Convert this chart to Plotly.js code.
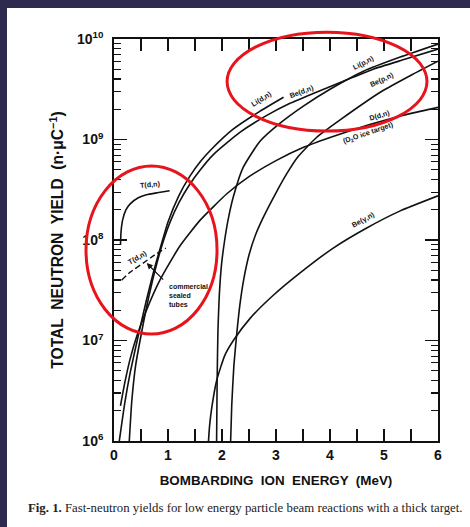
<!DOCTYPE html>
<html>
<head>
<meta charset="utf-8">
<script src="https://cdn.plot.ly/plotly-3.0.1.min.js"></script>
<style>
  html, body { margin:0; padding:0; width:470px; height:527px; overflow:hidden; background:#2e2a4e; }
  #panel { position:absolute; left:7px; top:8px; width:463px; height:519px; background:#ffffff; }
  #chart { position:absolute; left:0; top:0; width:470px; height:527px; }
</style>
</head>
<body>
<div id="panel"></div>
<div id="chart"></div>
<script>
// ---- Data (energy in MeV, log10 of yield in n/uC) ----
const E_LiDn    = [0.098, 0.2, 0.3, 0.45, 0.6, 0.75, 0.9, 1.0, 1.2, 1.4, 1.6, 1.8, 2.2, 2.7, 3.14];
const logY_LiDn = [6.0, 6.38, 6.68, 7.05, 7.4, 7.72, 8.0, 8.18, 8.44, 8.63, 8.78, 8.9, 9.1, 9.28, 9.42];

const E_BeDn    = [0.283, 0.33, 0.4, 0.5, 0.65, 0.8, 0.92, 1.04, 1.2, 1.41, 1.6, 1.84, 2.33, 2.83, 3.26, 3.7, 4.2, 4.8, 5.4, 6.0];
const logY_BeDn = [6.0, 6.4, 6.75, 7.05, 7.45, 7.78, 8.0, 8.18, 8.37, 8.56, 8.7, 8.85, 9.07, 9.24, 9.36, 9.46, 9.57, 9.7, 9.8, 9.9];

const E_LiPn    = [1.90, 1.91, 1.925, 1.95, 1.99, 2.05, 2.12, 2.21, 2.39, 2.7, 3.07, 3.5, 4.0, 4.62, 5.3, 6.0];
const logY_LiPn = [6.0, 6.6, 7.1, 7.45, 7.75, 8.0, 8.22, 8.43, 8.72, 8.98, 9.16, 9.33, 9.5, 9.68, 9.82, 9.95];

const E_BePn    = [2.16, 2.18, 2.22, 2.27, 2.33, 2.4, 2.5, 2.62, 2.76, 3.0, 3.2, 3.41, 3.75, 4.2, 4.96, 5.5, 6.0];
const logY_BePn = [6.0, 6.35, 6.75, 7.05, 7.35, 7.6, 7.85, 8.05, 8.22, 8.47, 8.66, 8.83, 9.02, 9.2, 9.48, 9.64, 9.78];

const E_DDn     = [0.12, 0.2, 0.3, 0.42, 0.6, 0.85, 1.22, 1.6, 2.09, 2.5, 3.0, 3.5, 4.0, 4.5, 5.0, 5.5, 6.0];
const logY_DDn  = [6.35, 6.58, 6.82, 7.04, 7.3, 7.6, 7.94, 8.2, 8.46, 8.63, 8.79, 8.92, 9.02, 9.11, 9.19, 9.26, 9.32];

const E_BeGn    = [1.75, 1.77, 1.81, 1.9, 2.05, 2.21, 2.52, 2.95, 3.44, 4.06, 4.68, 5.3, 6.0];
const logY_BeGn = [6.0, 6.15, 6.33, 6.6, 6.85, 7.0, 7.22, 7.45, 7.67, 7.92, 8.12, 8.29, 8.44];

const E_TDn     = [0.12, 0.13, 0.16, 0.22, 0.3, 0.45, 0.6, 0.8, 1.03];
const logY_TDn  = [7.95, 8.08, 8.2, 8.3, 8.36, 8.42, 8.45, 8.47, 8.49];

const E_TDnTube    = [0.14, 0.3, 0.54, 0.75, 0.96];
const logY_TDnTube = [7.6, 7.68, 7.77, 7.85, 7.92];

// axis tick labels
const xTickVals = [0, 1, 2, 3, 4, 5, 6];
const xTickText = ['0', '1', '2', '3', '4', '5', '6'];
const yTickVals = [1e6, 1e7, 1e8, 1e9, 1e10];
const yTickText = ['10<sup>6</sup>', '10<sup>7</sup>', '10<sup>8</sup>', '10<sup>9</sup>', '10<sup>10</sup>'];
const yMinorMantissas = [2, 3, 4, 5, 6, 7, 8, 9];
const yMinorTickVals = [1e6, 1e7, 1e8, 1e9].flatMap(d => yMinorMantissas.map(m => m * d));

const toYield = arr => arr.map(v => Math.pow(10, v));

function curve(x, ly, extra) {
  return Object.assign({
    x: x, y: toYield(ly), type:'scatter', mode:'lines',
    line: {color:'#111', width:1.6, shape:'spline', smoothing:0.5}, hoverinfo:'skip', showlegend:false
  }, extra || {});
}

const traces = [
  curve(E_LiDn, logY_LiDn),
  curve(E_BeDn, logY_BeDn),
  curve(E_LiPn, logY_LiPn),
  curve(E_BePn, logY_BePn),
  curve(E_DDn, logY_DDn, {yaxis:'y2'}),
  curve(E_BeGn, logY_BeGn),
  curve(E_TDn, logY_TDn),
  curve(E_TDnTube, logY_TDnTube, {line:{color:'#111', width:1.4, dash:'6px,3px', shape:'spline', smoothing:0.5}})
];

const lblFont = {family:'Liberation Sans, Arial, sans-serif', size:7.2, color:'#111', weight:'bold'};
function lbl(text, x, ly, ang) {
  return {text:text, x:x, y:ly, xref:'x', yref:'y', showarrow:false, textangle:ang, font:lblFont};
}

const annotations = [
  lbl('Li(d,n)', 2.74, 9.41, -32),
  lbl('Be(d,n)', 3.48, 9.48, -20),
  lbl('Li(p,n)', 4.62, 9.77, -27),
  lbl('Be(p,n)', 4.96, 9.6, -25),
  lbl('D(d,n)', 4.91, 9.24, -17),
  lbl('(D<sub>2</sub>O ice target)', 4.71, 9.06, -19),
  lbl('Be(γ,n)', 4.62, 8.2, -29),
  lbl('T(d,n)', 0.67, 8.55, -5),
  lbl('T(d,n)', 0.43, 7.83, -30),
  {text:'commercial<br>sealed<br>tubes', x:0.98, y:7.45, xref:'x', yref:'y', showarrow:false,
   xanchor:'left', align:'left', font:{family:'Liberation Sans, Arial, sans-serif', size:7, color:'#111', weight:'bold'}},
  {text:'', x:0.606, y:7.77, xref:'x', yref:'y', showarrow:true, arrowhead:2, arrowsize:1, arrowwidth:1.2,
   arrowcolor:'#111', ax:18, ay:18},
  {text:'<b>Fig. 1.</b> Fast-neutron yields for low energy particle beam reactions with a thick target.',
   xref:'paper', yref:'paper', x:-0.272, y:-0.166, xanchor:'left', yanchor:'middle', showarrow:false,
   font:{family:'Liberation Serif, Times New Roman, serif', size:12.8, color:'#222'}}
];

const shapes = [
  {type:'circle', xref:'paper', yref:'paper', x0:0.349, x1:0.966, y0:0.771, y1:1.017,
   line:{color:'#e8141c', width:3}},
  {type:'circle', xref:'paper', yref:'paper', x0:-0.0864, x1:0.318, y0:0.266, y1:0.684,
   line:{color:'#e8141c', width:3}}
];

const axFont = {family:'Liberation Sans, Arial, sans-serif', size:14, color:'#111', weight:'bold'};

const layout = {
  width:470, height:527,
  margin:{l:114, r:32, t:39, b:86},
  paper_bgcolor:'rgba(0,0,0,0)', plot_bgcolor:'#ffffff',
  showlegend:false,
  xaxis:{
    range:[0,6], tickvals:xTickVals, ticktext:xTickText,
    ticks:'inside', ticklen:12, tickwidth:1.3, tickcolor:'#111',
    minor:{dtick:0.5, ticks:'inside', ticklen:8, tickwidth:1.3, tickcolor:'#111', showgrid:false},
    showline:true, linecolor:'#111', linewidth:1.8, mirror:'allticks',
    showgrid:false, zeroline:false, tickfont:axFont,
    title:{text:'BOMBARDING  ION  ENERGY  (MeV)', font:{family:'Liberation Sans, Arial, sans-serif', size:13.4, color:'#111', weight:'bold'}, standoff:14}
  },
  yaxis:{
    type:'log', range:[6,10], tickvals:yTickVals, ticktext:yTickText,
    ticks:'inside', ticklen:13, tickwidth:1.3, tickcolor:'#111',
    showline:true, linecolor:'#111', linewidth:1.8, mirror:'allticks',
    showgrid:false, zeroline:false, tickfont:axFont, ticklabelstandoff:6,
    title:{text:'TOTAL  NEUTRON  YIELD  (n·μC<sup>−1</sup>)', font:{family:'Liberation Sans, Arial, sans-serif', size:15.6, color:'#111', weight:'bold'}, standoff:9}
  },
  yaxis2:{
    type:'log', range:[6,10], overlaying:'y', side:'left', anchor:'x',
    tickmode:'array', tickvals:yMinorTickVals, showticklabels:false,
    ticks:'inside', ticklen:7, tickwidth:1.1, tickcolor:'#111',
    showline:false, mirror:'allticks', showgrid:false, zeroline:false
  },
  annotations:annotations,
  shapes:shapes
};

Plotly.newPlot('chart', traces, layout, {staticPlot:true, displayModeBar:false});
</script>
</body>
</html>
